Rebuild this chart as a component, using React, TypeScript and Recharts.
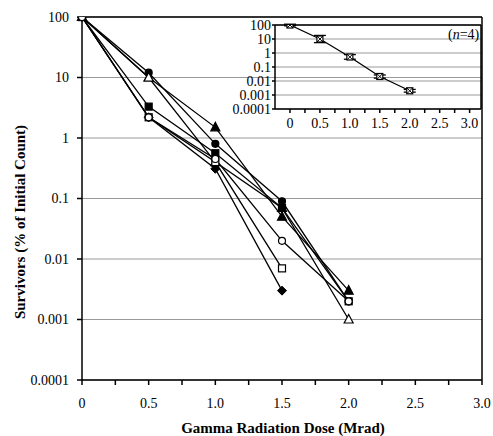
import React from "react";
import {
    LineChart,
    Line,
    XAxis,
    YAxis,
    CartesianGrid,
    ReferenceLine,
    ErrorBar
} from "recharts";

// dose points (Mrad)
const doses = [0, 0.5, 1.0, 1.5, 2.0];

// survivors (% of initial count), one array per strain / run
const filledCircle = [100, 12, 0.8, 0.09, 0.002];
const filledTriangle = [100, 10, 1.5, 0.05, 0.003];
const openTriangle = [100, 10, 0.4, 0.07, 0.001];
const filledSquare = [100, 3.3, 0.56, 0.07, 0.002];
const filledDiamond = [100, 2.2, 0.31, 0.003];
const openSquare = [100, 2.2, 0.4, 0.007];
const openCircle = [100, 2.2, 0.45, 0.02, 0.002];

// inset: mean of n=4 with error bars
const insetMean = [100, 10, 0.52, 0.021, 0.002];
const insetErrLow = [12, 4.5, 0.16, 0.005, 0.0004];
const insetErrHigh = [14, 8, 0.25, 0.006, 0.0005];

const yTicks = [0.0001, 0.001, 0.01, 0.1, 1, 10, 100];
const xTicks = [0, 0.25, 0.5, 0.75, 1, 1.25, 1.5, 1.75, 2, 2.25, 2.5, 2.75, 3];

const series = [
    {key: "s1", values: filledCircle, shape: "circle", filled: true},
    {key: "s2", values: filledTriangle, shape: "triangle", filled: true},
    {key: "s3", values: openTriangle, shape: "triangle", filled: false},
    {key: "s4", values: filledSquare, shape: "square", filled: true},
    {key: "s5", values: filledDiamond, shape: "diamond", filled: true},
    {key: "s6", values: openSquare, shape: "square", filled: false},
    {key: "s7", values: openCircle, shape: "circle", filled: false},
];

const data = doses.map((d, i) => {
    const row: any = {dose: d};
    series.forEach((s) => {
        row[s.key] = s.values[i];
    });
    return row;
});

const insetData = doses.map((d, i) => ({
    dose: d,
    mean: insetMean[i],
    err: [insetErrLow[i], insetErrHigh[i]],
}));

const FONT = "Liberation Serif, Times New Roman, Times, DejaVu Serif, serif";

function Marker({cx, cy, shape, filled}: any) {
    if (cx == null || cy == null) return null;
    const fill = filled ? "#000" : "#fff";
    const r = 3.5;
    if (shape === "circle") {
        return <circle cx={cx} cy={cy} r={r} fill={fill} stroke="#000" strokeWidth={1.2}/>;
    }
    if (shape === "square") {
        return <rect x={cx - r} y={cy - r} width={2 * r} height={2 * r} fill={fill} stroke="#000" strokeWidth={1.2}/>;
    }
    if (shape === "diamond") {
        return <polygon points={`${cx},${cy - 4.5} ${cx + 4.5},${cy} ${cx},${cy + 4.5} ${cx - 4.5},${cy}`}
                        fill={fill} stroke="#000" strokeWidth={1}/>;
    }
    if (shape === "cross") {
        return (
            <g>
                <rect x={cx - 3} y={cy - 3} width={6} height={6} fill="#fff" stroke="#000" strokeWidth={1.2}/>
                <line x1={cx - 3} y1={cy - 3} x2={cx + 3} y2={cy + 3} stroke="#000"/>
                <line x1={cx + 3} y1={cy - 3} x2={cx - 3} y2={cy + 3} stroke="#000"/>
            </g>
        );
    }
    return <polygon points={`${cx},${cy - 5} ${cx + 4.5},${cy + 3.5} ${cx - 4.5},${cy + 3.5}`}
                    fill={fill} stroke="#000" strokeWidth={1.2}/>;
}

const fmtX = (v: number) => {
    if (v === 0) return "0";
    if (Math.round(v * 2) !== v * 2) return "";
    return v.toFixed(1);
};

const tickStyle = {fill: "#000", fontSize: 14, fontFamily: FONT};

export default function App() {
    return (
        <div style={{position: "absolute", left: 0, top: 0, width: 493, height: 436, background: "#fff", fontFamily: FONT}}>
            <LineChart width={493} height={436} data={data} margin={{top: 17, right: 11, left: 10, bottom: 20}}
                       style={{fontFamily: FONT}}>
                <CartesianGrid vertical={false} stroke="#999" strokeWidth={1}/>
                <XAxis dataKey="dose" type="number" domain={[0, 3]} ticks={xTicks} tickFormatter={fmtX}
                       interval={0} stroke="#000" strokeWidth={1.5} tickSize={5} tickMargin={13} height={36}
                       tick={tickStyle}/>
                <YAxis type="number" scale="log" domain={[0.0001, 100]} ticks={yTicks} allowDataOverflow
                       tickFormatter={(v: number) => String(v)} interval={0} stroke="#000" strokeWidth={1.5}
                       tickSize={5} tickMargin={8} width={72} tick={tickStyle}/>
                <ReferenceLine y={100} stroke="#000" strokeWidth={1.5}/>
                <ReferenceLine x={3} stroke="#000" strokeWidth={1.5}/>
                {series.map((s) => (
                    <Line key={s.key} dataKey={s.key} stroke="#000" strokeWidth={1.3} isAnimationActive={false}
                          connectNulls={false}
                          dot={(p: any) => <Marker key={`${s.key}-${p.index}`} cx={p.cx} cy={p.cy} shape={s.shape}
                                                   filled={s.filled}/>}/>
                ))}
            </LineChart>

            <div style={{position: "absolute", left: 230, top: 10}}>
                <LineChart width={263} height={130} data={insetData} margin={{top: 15, right: 12, left: 0, bottom: 0}}
                           style={{fontFamily: FONT}}>
                    <CartesianGrid vertical={false} stroke="#999" strokeWidth={1}/>
                    <XAxis dataKey="dose" type="number" domain={[-0.25, 3.19]} ticks={xTicks} tickFormatter={fmtX}
                           interval={0} stroke="#000" strokeWidth={1.5} tickSize={4} tickMargin={5} height={31}
                           tick={tickStyle}/>
                    <YAxis type="number" scale="log" domain={[0.0001, 100]} ticks={yTicks} allowDataOverflow
                           tickFormatter={(v: number) => String(v)} interval={0} stroke="#000" strokeWidth={1.5}
                           tickSize={3} tickMargin={1} width={45} tick={tickStyle}/>
                    <ReferenceLine y={100} stroke="#000" strokeWidth={1.5}/>
                    <ReferenceLine x={3.19} stroke="#000" strokeWidth={1.5}/>
                    <Line dataKey="mean" stroke="#000" strokeWidth={1.3} isAnimationActive={false}
                          dot={(p: any) => <Marker key={`in-${p.index}`} cx={p.cx} cy={p.cy} shape="cross"/>}>
                        <ErrorBar dataKey="err" width={6} stroke="#000" strokeWidth={1.3} direction="y"/>
                    </Line>
                </LineChart>
                <div style={{position: "absolute", left: 218, top: 17, fontSize: 14, whiteSpace: "nowrap"}}>
                    (<i>n</i>=4)
                </div>
            </div>

            <div style={{
                position: "absolute", left: 20, top: 222, transform: "translate(-50%, -50%) rotate(-90deg)",
                whiteSpace: "nowrap", fontWeight: "bold", fontSize: 15
            }}>
                Survivors (% of Initial Count)
            </div>
            <div style={{
                position: "absolute", left: 283, top: 428, transform: "translate(-50%, -50%)",
                whiteSpace: "nowrap", fontWeight: "bold", fontSize: 15
            }}>
                Gamma Radiation Dose (Mrad)
            </div>
        </div>
    );
}
